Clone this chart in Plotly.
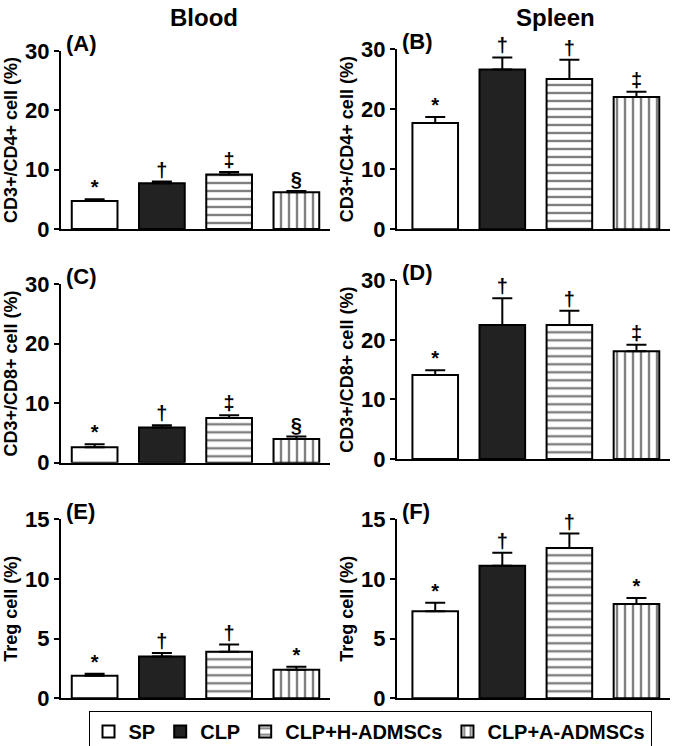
import plotly.graph_objects as go

categories = ["SP", "CLP", "CLP+H-ADMSCs", "CLP+A-ADMSCs"]

panel_labels = ["(A)", "(B)", "(C)", "(D)", "(E)", "(F)"]
y_titles = ["CD3+/CD4+ cell (%)", "CD3+/CD4+ cell (%)",
            "CD3+/CD8+ cell (%)", "CD3+/CD8+ cell (%)",
            "Treg cell (%)", "Treg cell (%)"]
y_max = [30, 30, 30, 30, 15, 15]
y_dtick = [10, 10, 10, 10, 5, 5]

mean_A = [4.7, 7.7, 9.2, 6.2]
sem_A = [0.3, 0.3, 0.4, 0.2]
mean_B = [17.7, 26.6, 25.0, 22.0]
sem_B = [1.0, 2.0, 3.2, 0.9]
mean_C = [2.6, 5.9, 7.5, 4.0]
sem_C = [0.5, 0.4, 0.5, 0.4]
mean_D = [14.1, 22.5, 22.5, 18.1]
sem_D = [0.8, 4.5, 2.4, 1.1]
mean_E = [1.9, 3.5, 3.9, 2.4]
sem_E = [0.15, 0.3, 0.6, 0.25]
mean_F = [7.3, 11.1, 12.6, 7.9]
sem_F = [0.7, 1.1, 1.2, 0.5]

sig_A = ["*", "†", "‡", "§"]
sig_B = ["*", "†", "†", "‡"]
sig_C = ["*", "†", "‡", "§"]
sig_D = ["*", "†", "†", "‡"]
sig_E = ["*", "†", "†", "*"]
sig_F = ["*", "†", "†", "*"]

means = [mean_A, mean_B, mean_C, mean_D, mean_E, mean_F]
sems = [sem_A, sem_B, sem_C, sem_D, sem_E, sem_F]
sigs = [sig_A, sig_B, sig_C, sig_D, sig_E, sig_F]

W, H = 685, 746
FONT = "Liberation Sans, Arial, sans-serif"

# pixel layout of each panel (left, right, top, bottom)
px_boxes = [
    (61, 330, 51, 229),
    (397, 670, 49, 229.3),
    (61, 330, 284.3, 462.7),
    (397, 670, 280.3, 459),
    (61, 330, 519.3, 698.3),
    (397, 670, 519.3, 698.3),
]
x_ranges = [[-0.5, 3.5], [-0.57, 3.5]] * 3

fills = ["white", "#222222", "white", "white"]
shapes = ["", "", "-", "|"]

fig = go.Figure()
layout_axes = {}
annotations = []

for p in range(6):
    xa = "x" if p == 0 else f"x{p+1}"
    ya = "y" if p == 0 else f"y{p+1}"
    l, r, t, b = px_boxes[p]
    for i, cat in enumerate(categories):
        fig.add_trace(go.Bar(
            x=[cat], y=[means[p][i]],
            xaxis=xa, yaxis=ya,
            name=cat, legendgroup=cat, showlegend=(p == 0),
            width=0.68,
            marker=dict(color=fills[i],
                        line=dict(color="black", width=2),
                        pattern=dict(shape=shapes[i], fgcolor="black",
                                     bgcolor="white", size=8,
                                     solidity=0.3, fillmode="overlay")),
            error_y=dict(type="data", array=[sems[p][i]], arrayminus=[0],
                         symmetric=False, color="black", thickness=2,
                         width=10),
        ))
    tops = [m + s for m, s in zip(means[p], sems[p])]
    fig.add_trace(go.Scatter(
        x=categories, y=tops, xaxis=xa, yaxis=ya, mode="text",
        text=sigs[p], textposition="top center", showlegend=False,
        textfont=dict(family=FONT, size=20, color="black", weight="bold"),
        cliponaxis=False,
    ))
    xkey = "xaxis" if p == 0 else f"xaxis{p+1}"
    ykey = "yaxis" if p == 0 else f"yaxis{p+1}"
    layout_axes[xkey] = dict(
        domain=[l / W, r / W], anchor=ya, range=x_ranges[p],
        categoryorder="array", categoryarray=categories,
        showticklabels=False, ticks="", showline=True, linecolor="black",
        linewidth=2, showgrid=False, zeroline=False, fixedrange=True,
        automargin=False,
    )
    layout_axes[ykey] = dict(
        domain=[1 - b / H, 1 - t / H], anchor=xa, range=[0, y_max[p]],
        dtick=y_dtick[p], tick0=0, ticks="outside", ticklen=5, tickwidth=2,
        tickcolor="black", showline=True, linecolor="black", linewidth=2,
        showgrid=False, zeroline=False, automargin=False,
        tickfont=dict(family=FONT, size=22, color="black", weight="bold"),
        title=dict(text=y_titles[p], standoff=3,
                   font=dict(family=FONT, size=18, color="black", weight="bold")),
    )
    annotations.append(dict(
        text=panel_labels[p], xref="paper", yref="paper",
        x=(l + 3) / W, y=1 - (t - 22) / H, xanchor="left", yanchor="top",
        showarrow=False,
        font=dict(family=FONT, size=22, color="black", weight="bold"),
    ))

annotations.append(dict(text="Blood", xref="paper", yref="paper",
                        x=204 / W, y=1 - 2 / H, xanchor="center", yanchor="top",
                        showarrow=False,
                        font=dict(family=FONT, size=24, color="black", weight="bold")))
annotations.append(dict(text="Spleen", xref="paper", yref="paper",
                        x=555 / W, y=1 - 2 / H, xanchor="center", yanchor="top",
                        showarrow=False,
                        font=dict(family=FONT, size=24, color="black", weight="bold")))

fig.update_layout(
    width=W, height=H,
    margin=dict(l=0, r=0, t=0, b=0, autoexpand=False),
    paper_bgcolor="white", plot_bgcolor="white",
    barmode="overlay",
    showlegend=True,
    legend=dict(orientation="h", x=370 / W, xanchor="center",
                y=1 - 711 / H, yanchor="top",
                bordercolor="black", borderwidth=1, bgcolor="white",
                font=dict(family=FONT, size=20, color="black", weight="bold"),
                itemwidth=30, tracegroupgap=0),
    annotations=annotations,
    **layout_axes,
)

fig.write_html("out.html", config={"displayModeBar": False},
               post_script="document.body.style.margin='0';document.body.style.padding='0';")
